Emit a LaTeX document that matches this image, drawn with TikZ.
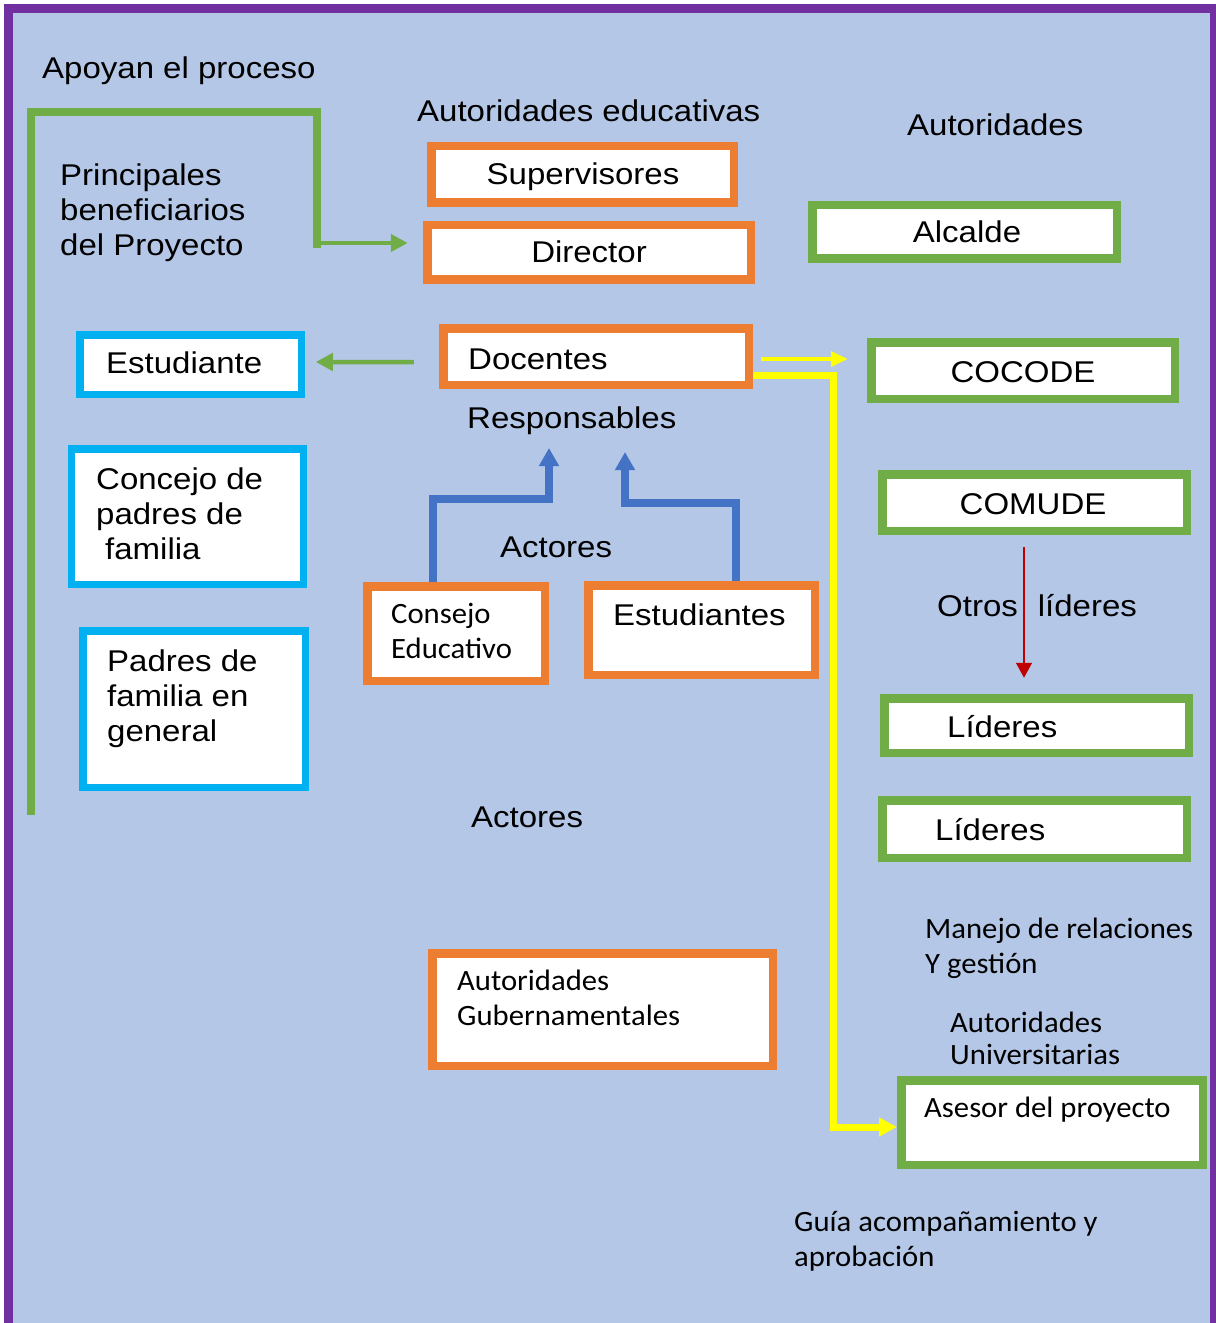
\documentclass[tikz,border=0pt]{standalone}
\usepackage{fontspec}
\setmainfont{Liberation Sans}[FakeStretch=1.1]
\newfontfamily\calib{Carlito}[FakeStretch=1.04]
\usetikzlibrary{arrows.meta,calc}
\definecolor{bgblue}{HTML}{B4C7E7}
\definecolor{purp}{HTML}{7030A0}
\definecolor{grn}{HTML}{70AD47}
\definecolor{orng}{HTML}{ED7D31}
\definecolor{cyanb}{HTML}{00B0F0}
\definecolor{blu}{HTML}{4472C4}
\definecolor{yel}{HTML}{FFFF00}
\definecolor{redd}{HTML}{C00000}
\newcommand\fA{\fontsize{30bp}{35bp}\selectfont}
\newcommand\fC{\calib\fontsize{29.5bp}{35bp}\selectfont}
\newcommand\tpstrut{\rule{0pt}{25bp}}
\tikzset{
  box/.style={draw, fill=white, inner sep=0pt, line width=8.5bp},
  cbox/.style={box, draw=cyanb, line width=7.5bp},
  obox/.style={box, draw=orng},
  gbox/.style={box, draw=grn},
  tl/.style={anchor=north west, inner sep=0pt, align=left, font=\fA, text=black},
  tlc/.style={tl, font=\fC},
  tc/.style={anchor=base, inner sep=0pt, font=\fA, text=black},
  gline/.style={draw=grn, line width=8bp},
  garr/.style={draw=grn, line width=4.5bp, -{Triangle[length=17bp,width=17bp]}},
  yarrA/.style={draw=yel, line width=4bp, -{Triangle[length=17bp,width=15bp]}},
  yarrB/.style={draw=yel, line width=7bp, -{Triangle[length=18bp,width=18bp]}},
  barr/.style={draw=blu, line width=8bp, -{Triangle[length=18bp,width=19bp]}},
  rarr/.style={draw=redd, line width=1.5bp, -{Triangle[length=15bp,width=16bp]}}
}
\begin{document}
\begin{tikzpicture}[x=1bp,y=-1bp]
\useasboundingbox (0,0) rectangle (1215,1323);
\fill[white] (0,0) rectangle (1215,1323);
\draw[draw=purp, line width=9bp, fill=bgblue] (8.5,8.5) rectangle (1214.5,1345);

% boxes
\node[cbox, minimum width=221.5bp, minimum height=59.5bp] (estud) at (190.5,364.5) {};
\node[cbox, minimum width=231.5bp, minimum height=135.5bp] (concejo) at (187.5,516.5) {};
\node[cbox, minimum width=222.5bp, minimum height=156.5bp] (padres) at (194,709) {};
\node[obox, minimum width=302.5bp, minimum height=56.5bp] (superv) at (582.5,174.5) {};
\node[obox, minimum width=323.5bp, minimum height=54.5bp] (director) at (589,252.5) {};
\node[obox, minimum width=305.5bp, minimum height=56.5bp] (docentes) at (596,356.5) {};
\node[obox, minimum width=177.5bp, minimum height=94.5bp] (consejoEd) at (456,633.5) {};
\node[obox, minimum width=226.5bp, minimum height=89.5bp] (estudiantes) at (701.5,630) {};
\node[obox, minimum width=340.5bp, minimum height=112.5bp] (autgub) at (602.5,1009.5) {};
\node[gbox, minimum width=304.5bp, minimum height=53.5bp] (alcalde) at (964.5,232) {};
\node[gbox, minimum width=303.5bp, minimum height=56.5bp] (cocode) at (1023,370.5) {};
\node[gbox, minimum width=304.5bp, minimum height=56.5bp] (comude) at (1034.5,502.5) {};
\node[gbox, minimum width=304.5bp, minimum height=54.5bp] (lid1) at (1036.5,725.5) {};
\node[gbox, minimum width=304.5bp, minimum height=57.5bp] (lid2) at (1034.5,829) {};
\node[gbox, minimum width=301.5bp, minimum height=84.5bp] (asesor) at (1052,1122.5) {};

% texts
\node[tl] (apoyan) at (42,53) {\tpstrut Apoyan el proceso};
\node[tl] (auted) at (417,96) {\tpstrut Autoridades educativas};
\node[tl] (princ) at (60,160) {\tpstrut Principales\\beneficiarios\\del Proyecto};
\node[tl] (autor) at (907,110) {\tpstrut Autoridades};
\node[tc] (supervT) at (583,185) {Supervisores};
\node[tc] (directorT) at (589,263) {Director};
\node[tc] (alcaldeT) at (967,243) {Alcalde};
\node[tc] (cocodeT) at (1023,382) {COCODE};
\node[tc] (comudeT) at (1033,514) {COMUDE};
\node[tl] (estudT) at (106,348) {\tpstrut Estudiante};
\node[tl] (docT) at (468,344) {\tpstrut Docentes};
\node[tl] (resp) at (467,403) {\tpstrut Responsables};
\node[tl] (act1) at (500,532) {\tpstrut Actores};
\node[tlc] (consT) at (391,598) {\tpstrut Consejo\\Educativo};
\node[tl] (estsT) at (613,600) {\tpstrut Estudiantes};
\node[tl] (concT) at (96,464) {\tpstrut Concejo de\\padres de\\\hspace*{9bp}familia};
\node[tl] (padT) at (107,646) {\tpstrut Padres de\\familia en\\general};
\node[tl] (otros) at (937,591) {\tpstrut Otros\hspace{20bp}líderes};
\node[tl] (lid1T) at (947,712) {\tpstrut Líderes};
\node[tl] (lid2T) at (935,815) {\tpstrut Líderes};
\node[tl] (act2) at (471,802) {\tpstrut Actores};
\node[tlc] (gubT) at (457,965) {\tpstrut Autoridades\\Gubernamentales};
\node[tlc] (manT) at (925,913) {\tpstrut Manejo de relaciones\\Y gestión};
\node[tlc] (univT) at (950,1007) {\tpstrut Autoridades\\[-3bp]Universitarias};
\node[tlc] (asesT) at (924,1092) {\tpstrut Asesor del proyecto};
\node[tlc] (guiaT) at (794,1206) {\tpstrut Guía acompañamiento y\\aprobación};

% green L connector
\coordinate (gs) at (31,815);
\coordinate (gcorner) at (317,243);
\draw[gline] (gs) -- (31,112) -- (317,112) -- (317,248);
\draw[garr, shorten >=15.25bp] (gcorner) -- (gcorner -| director.west);

% docentes -> estudiante
\draw[garr, shorten <=25.25bp, shorten >=10.75bp] ($(docentes.west)+(0,5.5)$) -- ($(estud.east)+(0,-2.5)$);

% yellow arrows
\coordinate (y1s) at ($(docentes.east)+(0,2.5)$);
\draw[yarrA, shorten <=8.25bp, shorten >=19.25bp] (y1s) -- (y1s -| cocode.west);
\coordinate (y2s) at ($(docentes.east)+(0,18.5)$);
\coordinate (y2e) at ($(asesor.west)+(0,4.5)$);
\draw[yarrB] (y2s) -- ++(80.25,0) |- (y2e);

% blue arrows
\coordinate (b1s) at ($(consejoEd.north)+(-23,0)$);
\coordinate (b1e) at (549,448);
\draw[barr] (b1s) |- ($(b1e)+(0,51)$) -- (b1e);
\coordinate (b2s) at ($(estudiantes.north)+(34.5,0)$);
\coordinate (b2e) at (625,452);
\draw[barr] (b2s) |- ($(b2e)+(0,51)$) -- (b2e);

% red arrow
\coordinate (rs) at ($(comude.south)+(-10.5,0)$);
\draw[rarr, shorten <=12.25bp, shorten >=16.25bp] (rs) -- (rs |- lid1.north);
\end{tikzpicture}
\end{document}
